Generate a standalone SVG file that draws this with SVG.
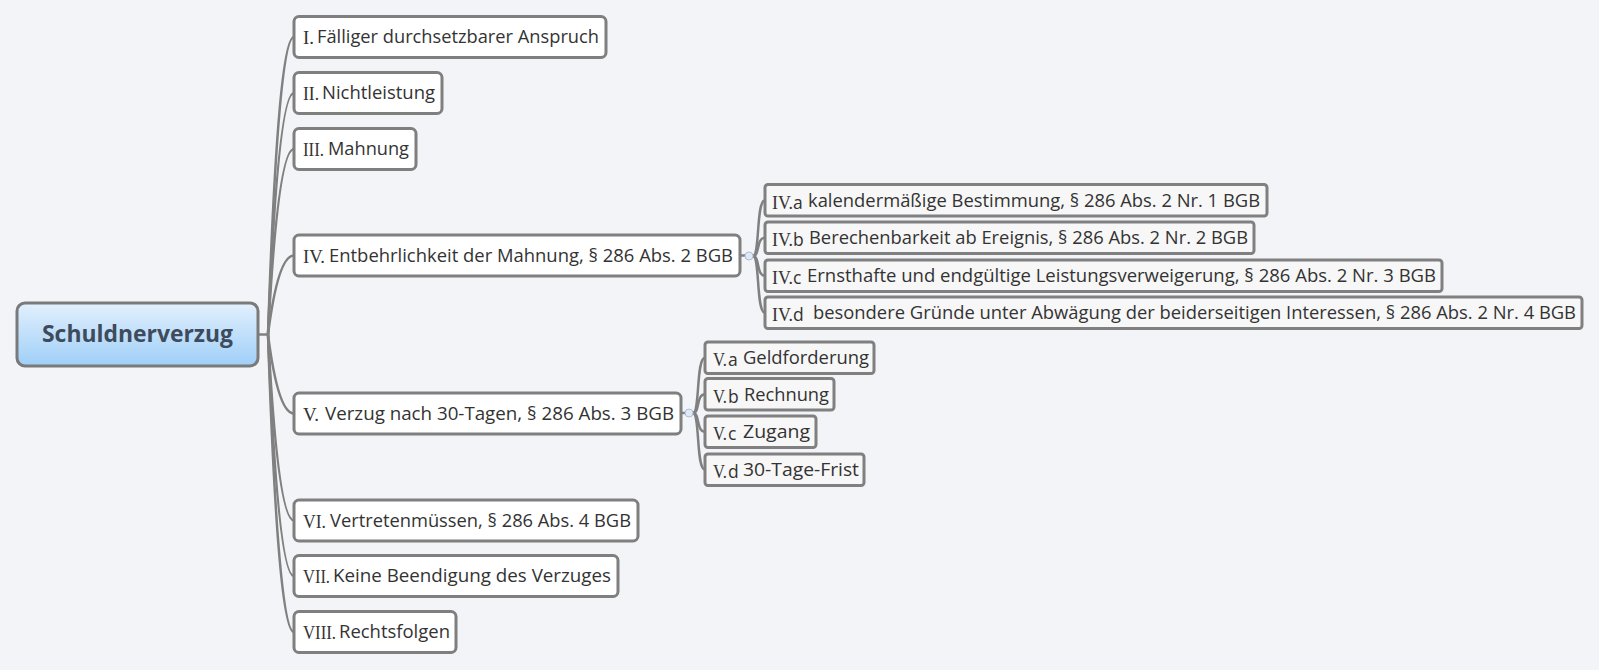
<svg xmlns="http://www.w3.org/2000/svg" width="1599" height="670" viewBox="0 0 1599 670">
<style>
.bg{fill:#f2f4f7}
.l1{fill:#ffffff;stroke:#7f7f7f;stroke-width:3}
.l2{fill:#f7f7f7;stroke:#808080;stroke-width:3}
.con{fill:none;stroke:#808080;stroke-width:2.5}
.num{font-family:"Liberation Serif",serif;font-size:19.5px;fill:#333}
.txt{font-family:"Open Sans","Noto Sans",sans-serif;font-size:17.5px;fill:#333}
.sub{font-family:"Open Sans","Noto Sans",sans-serif;font-size:17.5px;fill:#333}
.root-t{font-family:"Open Sans","Noto Sans",sans-serif;font-size:23px;font-weight:bold;fill:#3d4b5c}
.knob{fill:#dfe8f3;stroke:#aabfd8;stroke-width:1}
</style>
<defs>
<linearGradient id="rootGrad" x1="0" y1="0" x2="0" y2="1">
<stop offset="0" stop-color="#e2f0fd"/>
<stop offset="1" stop-color="#9fcff8"/>
</linearGradient>
</defs>
<rect class="bg" x="0" y="0" width="1599" height="670"/>

<g id="connectors">
<path class="con" d="M258 334.5 H268"/>
<path class="con" d="M268 334.5 Q278 37 294 37"/>
<path class="con" d="M268 334.5 Q278 93 294 93"/>
<path class="con" d="M268 334.5 Q278 149 294 149"/>
<path class="con" d="M268 334.5 Q278 255.5 294 255.5"/>
<path class="con" d="M268 334.5 Q278 413.5 294 413.5"/>
<path class="con" d="M268 334.5 Q278 520.5 294 520.5"/>
<path class="con" d="M268 334.5 Q278 576 294 576"/>
<path class="con" d="M268 334.5 Q278 632 294 632"/>

<path class="con" d="M740 255.5 H745" stroke="#aabfd8"/>
<path class="con" d="M753 256 C760 256 756 200.25 765 200.25"/>
<path class="con" d="M753 256 C760 256 756 237.75 765 237.75"/>
<path class="con" d="M753 256 C760 256 756 275.75 765 275.75"/>
<path class="con" d="M753 256 C760 256 756 312.75 765 312.75"/>
<circle class="knob" cx="749" cy="256" r="4"/>

<path class="con" d="M681 413 H685" stroke="#aabfd8"/>
<path class="con" d="M693 413 C700 413 696 357.75 705 357.75"/>
<path class="con" d="M693 413 C700 413 696 394.25 705 394.25"/>
<path class="con" d="M693 413 C700 413 696 431.75 705 431.75"/>
<path class="con" d="M693 413 C700 413 696 469.75 705 469.75"/>
<circle class="knob" cx="689" cy="413" r="4"/>
</g>

<g id="root">
<rect x="17" y="303" width="241" height="63" rx="8" fill="url(#rootGrad)" stroke="#7a7a7a" stroke-width="3"/>
<text class="root-t" x="137.5" y="342" text-anchor="middle" textLength="191" lengthAdjust="spacingAndGlyphs">Schuldnerverzug</text>
</g>

<g id="n1">
<rect class="l1" x="294" y="16.5" width="312" height="41" rx="5"/>
<text class="num" x="303" y="44" textLength="11" lengthAdjust="spacingAndGlyphs">I.</text>
<text class="txt" x="317" y="43" textLength="282" lengthAdjust="spacingAndGlyphs">Fälliger durchsetzbarer Anspruch</text>
</g>
<g id="n2">
<rect class="l1" x="294" y="72.5" width="148" height="41" rx="5"/>
<text class="num" x="303" y="100" textLength="16" lengthAdjust="spacingAndGlyphs">II.</text>
<text class="txt" x="322" y="99" textLength="113" lengthAdjust="spacingAndGlyphs">Nichtleistung</text>
</g>
<g id="n3">
<rect class="l1" x="294" y="128.5" width="122" height="41" rx="5"/>
<text class="num" x="303" y="156" textLength="21" lengthAdjust="spacingAndGlyphs">III.</text>
<text class="txt" x="328" y="155" textLength="81" lengthAdjust="spacingAndGlyphs">Mahnung</text>
</g>
<g id="n4">
<rect class="l1" x="294" y="235" width="446" height="41" rx="5"/>
<text class="num" x="303" y="262.5" textLength="22" lengthAdjust="spacingAndGlyphs">IV.</text>
<text class="txt" x="329" y="261.5" textLength="404" lengthAdjust="spacingAndGlyphs">Entbehrlichkeit der Mahnung, § 286 Abs. 2 BGB</text>
</g>
<g id="n5">
<rect class="l1" x="294" y="393" width="387" height="41" rx="5"/>
<text class="num" x="303" y="420.5" textLength="16" lengthAdjust="spacingAndGlyphs">V.</text>
<text class="txt" x="325" y="419.5" textLength="349" lengthAdjust="spacingAndGlyphs">Verzug nach 30-Tagen, § 286 Abs. 3 BGB</text>
</g>
<g id="n6">
<rect class="l1" x="294" y="500" width="344" height="41" rx="5"/>
<text class="num" x="303" y="527.5" textLength="23" lengthAdjust="spacingAndGlyphs">VI.</text>
<text class="txt" x="330" y="526.5" textLength="301" lengthAdjust="spacingAndGlyphs">Vertretenmüssen, § 286 Abs. 4 BGB</text>
</g>
<g id="n7">
<rect class="l1" x="294" y="555.5" width="324" height="41" rx="5"/>
<text class="num" x="303" y="583" textLength="27" lengthAdjust="spacingAndGlyphs">VII.</text>
<text class="txt" x="333" y="582" textLength="278" lengthAdjust="spacingAndGlyphs">Keine Beendigung des Verzuges</text>
</g>
<g id="n8">
<rect class="l1" x="294" y="611.5" width="162" height="41" rx="5"/>
<text class="num" x="303" y="639" textLength="33" lengthAdjust="spacingAndGlyphs">VIII.</text>
<text class="txt" x="339" y="638" textLength="111" lengthAdjust="spacingAndGlyphs">Rechtsfolgen</text>
</g>

<g id="n4a">
<rect class="l2" x="765" y="184.5" width="502" height="31.5" rx="3"/>
<text class="num" x="772" y="208.5" textLength="21" lengthAdjust="spacingAndGlyphs">IV.</text>
<text class="sub" x="793" y="208.5">a</text>
<text class="sub" x="808" y="206.5" textLength="452" lengthAdjust="spacingAndGlyphs">kalendermäßige Bestimmung, § 286 Abs. 2 Nr. 1 BGB</text>
</g>
<g id="n4b">
<rect class="l2" x="765" y="222" width="489" height="31.5" rx="3"/>
<text class="num" x="772" y="246" textLength="21" lengthAdjust="spacingAndGlyphs">IV.</text>
<text class="sub" x="793" y="246">b</text>
<text class="sub" x="809" y="244" textLength="439" lengthAdjust="spacingAndGlyphs">Berechenbarkeit ab Ereignis, § 286 Abs. 2 Nr. 2 BGB</text>
</g>
<g id="n4c">
<rect class="l2" x="765" y="260" width="677" height="31.5" rx="3"/>
<text class="num" x="772" y="284" textLength="21" lengthAdjust="spacingAndGlyphs">IV.</text>
<text class="sub" x="793" y="284">c</text>
<text class="sub" x="807" y="282" textLength="629" lengthAdjust="spacingAndGlyphs">Ernsthafte und endgültige Leistungsverweigerung, § 286 Abs. 2 Nr. 3 BGB</text>
</g>
<g id="n4d">
<rect class="l2" x="765" y="297" width="817" height="31.5" rx="3"/>
<text class="num" x="772" y="321" textLength="21" lengthAdjust="spacingAndGlyphs">IV.</text>
<text class="sub" x="793" y="321">d</text>
<text class="sub" x="813" y="319" textLength="763" lengthAdjust="spacingAndGlyphs">besondere Gründe unter Abwägung der beiderseitigen Interessen, § 286 Abs. 2 Nr. 4 BGB</text>
</g>

<g id="n5a">
<rect class="l2" x="705" y="342" width="169" height="31.5" rx="3"/>
<text class="num" x="713" y="366" textLength="14" lengthAdjust="spacingAndGlyphs">V.</text>
<text class="sub" x="728" y="366">a</text>
<text class="sub" x="743" y="364" textLength="126" lengthAdjust="spacingAndGlyphs">Geldforderung</text>
</g>
<g id="n5b">
<rect class="l2" x="705" y="378.5" width="129" height="31.5" rx="3"/>
<text class="num" x="713" y="402.5" textLength="14" lengthAdjust="spacingAndGlyphs">V.</text>
<text class="sub" x="728" y="402.5">b</text>
<text class="sub" x="744" y="400.5" textLength="85" lengthAdjust="spacingAndGlyphs">Rechnung</text>
</g>
<g id="n5c">
<rect class="l2" x="705" y="416" width="111" height="31.5" rx="3"/>
<text class="num" x="713" y="440" textLength="14" lengthAdjust="spacingAndGlyphs">V.</text>
<text class="sub" x="728" y="440">c</text>
<text class="sub" x="743" y="438" textLength="67" lengthAdjust="spacingAndGlyphs">Zugang</text>
</g>
<g id="n5d">
<rect class="l2" x="705" y="454" width="159" height="31.5" rx="3"/>
<text class="num" x="713" y="478" textLength="14" lengthAdjust="spacingAndGlyphs">V.</text>
<text class="sub" x="728" y="478">d</text>
<text class="sub" x="743" y="476" textLength="116" lengthAdjust="spacingAndGlyphs">30-Tage-Frist</text>
</g>
</svg>
